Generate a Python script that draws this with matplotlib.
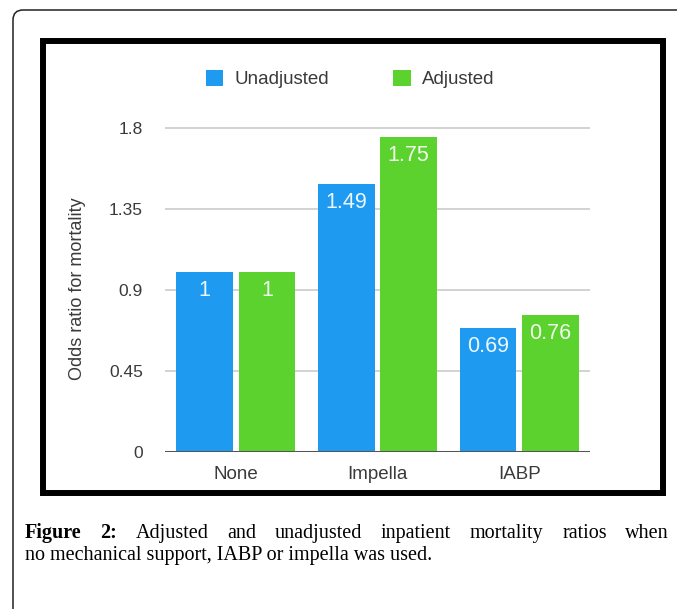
import numpy as np
import matplotlib.pyplot as plt
from matplotlib.patches import Rectangle, FancyBboxPatch
from matplotlib.transforms import IdentityTransform

# datos
categorias  = ['None', 'Impella', 'IABP']
unadjusted  = [1.00, 1.49, 0.69]
adjusted    = [1.00, 1.75, 0.76]
series      = ['Unadjusted', 'Adjusted']
yticks      = [0, 0.45, 0.9, 1.35, 1.8]
ytick_lbl   = ['0', '0.45', '0.9', '1.35', '1.8']
caption_1   = 'Adjusted and unadjusted inpatient mortality ratios when'
caption_2   = 'no mechanical support, IABP or impella was used.'

azul  = '#1E9BF0'
verde = '#5CD22F'

W, H = 677, 609
fig = plt.figure(figsize=(W/100, H/100), dpi=100)
plt.rcParams['font.family'] = ['Liberation Sans', 'DejaVu Sans']

def fx(x): return x / W
def fy(y): return 1 - y / H

# ejes (pixeles medidos sobre la imagen)
ax = fig.add_axes([fx(165), fy(452), fx(590) - fx(165), (452 - 124.4) / H])
x = np.arange(len(categorias))
b1 = ax.bar(x - 0.22, unadjusted, width=0.40, color=azul, zorder=2, label=series[0])
b2 = ax.bar(x + 0.22, adjusted, width=0.40, color=verde, zorder=2, label=series[1])

for bars, vals in ((b1, unadjusted), (b2, adjusted)):
    for r, v in zip(bars, vals):
        ax.annotate(f'{v:g}', (r.get_x() + r.get_width()/2, v), xytext=(0, -13.5),
                    textcoords='offset points', ha='center', va='center',
                    color='white', alpha=0.92, fontsize=15.5, zorder=3)

ax.set_xlim(-0.5, 2.5)
ax.set_ylim(0, 1.82)
ax.set_yticks(yticks)
ax.set_yticklabels(ytick_lbl)
ax.set_xticks(x)
ax.set_xticklabels(categorias)
ax.yaxis.grid(True, color='#cfcfcf', linewidth=1.3, zorder=0)
ax.axhline(0, color='#555555', linewidth=2.2, zorder=3)
for s in ax.spines.values():
    s.set_visible(False)
ax.tick_params(axis='y', length=0, pad=16, labelsize=12.5, labelcolor='#3a3a3a')
ax.tick_params(axis='x', length=0, pad=10, labelsize=13.5, labelcolor='#3a3a3a')
ax.set_ylabel('Odds ratio for mortality', fontsize=13, color='#3a3a3a')
ax.yaxis.set_label_coords((86 - 165) / 425, 0.5)

fig.legend(handles=[b1, b2], labels=series, loc='center', ncol=2,
           bbox_to_anchor=(fx(350), fy(79)), frameon=False, fontsize=13.5,
           handlelength=0.95, handleheight=0.95, handletextpad=0.6,
           columnspacing=3.4, labelcolor='#3a3a3a')

# marco grueso y borde exterior
fig.patches.append(Rectangle((43, H - 493), 620, 452, transform=IdentityTransform(),
                             fill=False, edgecolor='black', linewidth=4.3))
fig.patches.append(FancyBboxPatch((13, -60), 720, H - 10 + 60, transform=IdentityTransform(),
                                  boxstyle='round,pad=0,rounding_size=10',
                                  fill=False, edgecolor='#222222', linewidth=1.1))

# pie de figura, primera linea justificada
serif = ['Liberation Serif', 'DejaVu Serif']
renderer = fig.canvas.get_renderer()
palabras = [('Figure', 'bold'), ('2:', 'bold')] + [(p, 'normal') for p in caption_1.split()]
textos = [fig.text(0, fy(538), p, fontsize=14.5, family=serif, fontweight=w,
                   va='baseline', ha='left') for p, w in palabras]
anchos = [t.get_window_extent(renderer).width for t in textos]
x0, x1 = 25, 669
gap = (x1 - x0 - sum(anchos)) / (len(anchos) - 1)
pos = x0
for t, a in zip(textos, anchos):
    t.set_x(fx(pos))
    pos += a + gap
fig.text(fx(25), fy(560), caption_2, fontsize=14.5, family=serif, va='baseline', ha='left')

plt.savefig('out.png', dpi=100)
